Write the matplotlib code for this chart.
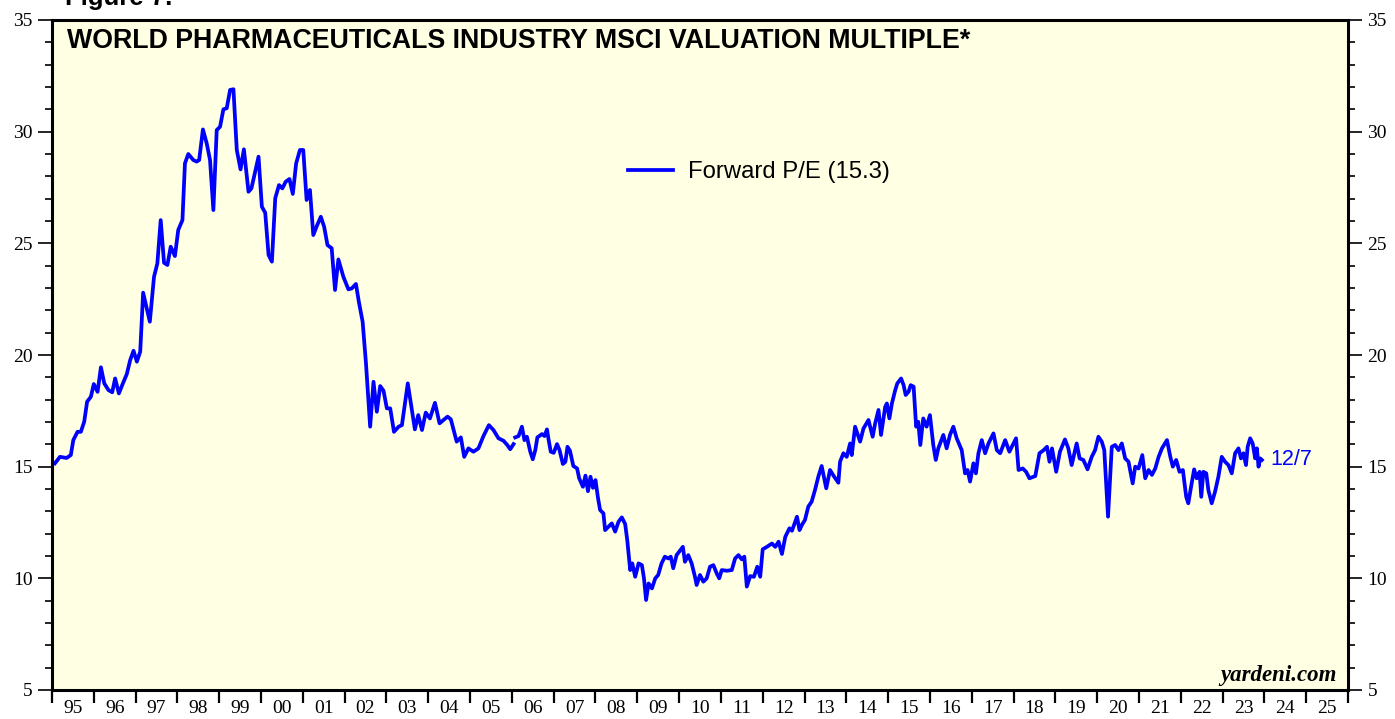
import numpy as np
import matplotlib
matplotlib.use('Agg')
import matplotlib.pyplot as plt

# Forward P/E, monthly part (1995 - 2005)
early_dates = [1995.07, 1995.19, 1995.35, 1995.45, 1995.51, 1995.61, 1995.69, 1995.77, 1995.84, 1995.93,
               1996.00, 1996.09, 1996.17, 1996.25, 1996.35, 1996.44, 1996.51, 1996.60, 1996.69, 1996.79,
               1996.87, 1996.95, 1997.03, 1997.11, 1997.18, 1997.34, 1997.44, 1997.52, 1997.60, 1997.68,
               1997.76, 1997.84, 1997.94, 1998.02, 1998.12, 1998.18, 1998.26, 1998.38, 1998.46, 1998.52,
               1998.61, 1998.70, 1998.78, 1998.86, 1998.94, 1999.02, 1999.10, 1999.18, 1999.26, 1999.34,
               1999.42, 1999.51, 1999.59, 1999.70, 1999.77, 1999.94, 2000.02, 2000.10, 2000.18, 2000.26,
               2000.34, 2000.43, 2000.51, 2000.59, 2000.68, 2000.76, 2000.84, 2000.93, 2001.01, 2001.09,
               2001.17, 2001.25, 2001.34, 2001.43, 2001.51, 2001.59, 2001.69, 2001.77, 2001.85, 2001.97,
               2002.09, 2002.17, 2002.27, 2002.34, 2002.43, 2002.51, 2002.61, 2002.69, 2002.77, 2002.85,
               2002.93, 2003.01, 2003.09, 2003.18, 2003.29, 2003.37, 2003.51, 2003.68, 2003.76, 2003.85,
               2003.94, 2004.04, 2004.16, 2004.27, 2004.46, 2004.54, 2004.68, 2004.78, 2004.86, 2004.96,
               2005.08, 2005.20, 2005.32, 2005.45, 2005.56, 2005.68, 2005.80, 2005.89, 2005.96, 2006.04]
early_pe = [15.15, 15.44, 15.39, 15.52, 16.19, 16.56, 16.56, 17.01, 17.91, 18.13,
            18.70, 18.35, 19.45, 18.73, 18.43, 18.33, 18.95, 18.28, 18.70, 19.15,
            19.77, 20.19, 19.70, 20.15, 22.79, 21.49, 23.50, 24.10, 26.04, 24.13,
            24.03, 24.85, 24.43, 25.60, 26.04, 28.58, 29.00, 28.73, 28.66, 28.73,
            30.10, 29.48, 28.73, 26.49, 30.07, 30.22, 31.00, 31.05, 31.87, 31.90,
            29.18, 28.31, 29.21, 27.31, 27.46, 28.88, 26.64, 26.37, 24.48, 24.18,
            27.02, 27.61, 27.46, 27.76, 27.88, 27.21, 28.58, 29.18, 29.18, 26.94,
            27.39, 25.37, 25.80, 26.19, 25.74, 24.92, 24.78, 22.91, 24.28, 23.50,
            22.94, 22.98, 23.18, 22.38, 21.49, 19.63, 16.79, 18.80, 17.46, 18.61,
            18.40, 17.61, 17.61, 16.56, 16.79, 16.86, 18.73, 16.67, 17.31, 16.64,
            17.42, 17.16, 17.86, 16.94, 17.24, 17.12, 16.12, 16.31, 15.44, 15.82,
            15.67, 15.82, 16.37, 16.86, 16.64, 16.27, 16.16, 15.97, 15.78, 16.01]

# Forward P/E, weekly part (2006 - 12/7/2023)
late_dates = [2006.08, 2006.16, 2006.24, 2006.30, 2006.36, 2006.44, 2006.50, 2006.56, 2006.61, 2006.72,
              2006.78, 2006.84, 2006.88, 2006.93, 2007.00, 2007.08, 2007.14, 2007.22, 2007.28, 2007.33,
              2007.39, 2007.47, 2007.56, 2007.61, 2007.70, 2007.76, 2007.82, 2007.88, 2007.94, 2008.00,
              2008.06, 2008.11, 2008.19, 2008.23, 2008.31, 2008.39, 2008.47, 2008.55, 2008.63, 2008.71,
              2008.76, 2008.83, 2008.88, 2008.95, 2009.03, 2009.11, 2009.16, 2009.21, 2009.27, 2009.35,
              2009.43, 2009.50, 2009.58, 2009.66, 2009.74, 2009.80, 2009.86, 2009.94, 2010.02, 2010.09,
              2010.14, 2010.22, 2010.30, 2010.38, 2010.42, 2010.50, 2010.58, 2010.66, 2010.74, 2010.82,
              2010.90, 2010.96, 2011.02, 2011.14, 2011.26, 2011.34, 2011.42, 2011.50, 2011.56, 2011.62,
              2011.70, 2011.79, 2011.87, 2011.94, 2012.00, 2012.10, 2012.22, 2012.30, 2012.38, 2012.46,
              2012.54, 2012.64, 2012.70, 2012.82, 2012.88, 2012.94, 2013.01, 2013.09, 2013.17, 2013.25,
              2013.33, 2013.41, 2013.52, 2013.61, 2013.71, 2013.81, 2013.85, 2013.93, 2014.01, 2014.09,
              2014.13, 2014.21, 2014.33, 2014.41, 2014.53, 2014.63, 2014.69, 2014.77, 2014.83, 2014.93,
              2014.97, 2015.03, 2015.09, 2015.17, 2015.22, 2015.31, 2015.37, 2015.42, 2015.49, 2015.54,
              2015.61, 2015.67, 2015.72, 2015.77, 2015.84, 2015.92, 2016.00, 2016.08, 2016.14, 2016.20,
              2016.32, 2016.40, 2016.48, 2016.56, 2016.64, 2016.76, 2016.84, 2016.90, 2016.96, 2017.04,
              2017.10, 2017.16, 2017.24, 2017.32, 2017.40, 2017.52, 2017.60, 2017.68, 2017.80, 2017.90,
              2018.00, 2018.06, 2018.12, 2018.22, 2018.30, 2018.38, 2018.52, 2018.62, 2018.72, 2018.80,
              2018.86, 2018.92, 2019.02, 2019.11, 2019.23, 2019.31, 2019.39, 2019.51, 2019.58, 2019.67,
              2019.77, 2019.87, 2019.95, 2020.03, 2020.11, 2020.17, 2020.22, 2020.26, 2020.31, 2020.35,
              2020.43, 2020.51, 2020.59, 2020.67, 2020.75, 2020.85, 2020.91, 2020.99, 2021.08, 2021.15,
              2021.23, 2021.31, 2021.39, 2021.47, 2021.55, 2021.67, 2021.75, 2021.81, 2021.89, 2021.97,
              2022.05, 2022.13, 2022.18, 2022.26, 2022.32, 2022.38, 2022.45, 2022.49, 2022.54, 2022.61,
              2022.66, 2022.74, 2022.82, 2022.90, 2022.98, 2023.06, 2023.14, 2023.22, 2023.30, 2023.38,
              2023.44, 2023.50, 2023.56, 2023.60, 2023.66, 2023.72, 2023.78, 2023.82, 2023.86, 2023.90,
              2023.94]
late_pe = [16.31, 16.37, 16.79, 16.19, 16.34, 15.67, 15.33, 15.74, 16.31, 16.46,
           16.37, 16.67, 16.19, 15.67, 15.62, 16.01, 15.74, 15.12, 15.22, 15.89,
           15.71, 15.03, 14.92, 14.48, 14.10, 14.60, 13.90, 14.55, 14.05, 14.40,
           13.60, 13.06, 12.91, 12.16, 12.31, 12.46, 12.09, 12.53, 12.73, 12.43,
           11.71, 10.37, 10.67, 10.07, 10.67, 10.59, 10.00, 9.03, 9.77, 9.55,
           10.00, 10.15, 10.67, 10.97, 10.89, 10.97, 10.45, 11.04, 11.24, 11.41,
           10.74, 11.04, 10.67, 10.07, 9.70, 10.15, 9.85, 10.00, 10.52, 10.59,
           10.22, 10.00, 10.37, 10.34, 10.37, 10.89, 11.04, 10.85, 10.97, 9.63,
           10.10, 10.07, 10.52, 10.07, 11.30, 11.41, 11.56, 11.41, 11.64, 11.09,
           11.86, 12.24, 12.13, 12.76, 12.16, 12.40, 12.61, 13.21, 13.43, 13.95,
           14.55, 15.03, 14.03, 14.85, 14.55, 14.28, 15.22, 15.60, 15.44, 16.04,
           15.52, 16.79, 16.12, 16.71, 17.09, 16.34, 16.94, 17.54, 16.42, 17.68,
           17.83, 17.16, 17.83, 18.43, 18.73, 18.95, 18.65, 18.21, 18.36, 18.65,
           18.58, 16.79, 17.01, 15.97, 17.16, 16.79, 17.31, 15.97, 15.30, 15.82,
           16.42, 15.82, 16.42, 16.79, 16.27, 15.74, 14.70, 14.85, 14.33, 15.15,
           14.70, 15.60, 16.19, 15.60, 16.04, 16.49, 15.74, 15.60, 16.19, 15.67,
           16.04, 16.27, 14.85, 14.92, 14.77, 14.48, 14.58, 15.60, 15.74, 15.89,
           15.22, 15.82, 14.77, 15.67, 16.22, 15.82, 15.07, 16.04, 15.37, 15.30,
           14.88, 15.44, 15.74, 16.34, 16.12, 15.74, 14.10, 12.76, 14.55, 15.89,
           15.97, 15.74, 16.04, 15.37, 15.22, 14.25, 15.00, 14.92, 15.52, 14.48,
           14.85, 14.63, 14.92, 15.44, 15.82, 16.19, 15.44, 15.00, 15.30, 14.77,
           14.85, 13.65, 13.36, 14.25, 14.88, 14.48, 14.77, 13.65, 14.77, 14.70,
           13.95, 13.36, 13.88, 14.55, 15.44, 15.22, 15.07, 14.70, 15.60, 15.82,
           15.37, 15.60, 15.07, 15.89, 16.27, 16.04, 15.37, 15.82, 15.00, 15.37,
           15.30]

year_labels = ['95', '96', '97', '98', '99', '00', '01', '02', '03', '04', '05', '06', '07', '08', '09', '10',
               '11', '12', '13', '14', '15', '16', '17', '18', '19', '20', '21', '22', '23', '24', '25']

blue = '#0000FF'
serif = 'Liberation Serif'
sans = 'Liberation Sans'

fig = plt.figure(figsize=(13.95, 7.19), dpi=100)
ax = fig.add_axes([52 / 1395, 1 - 690 / 719, 1296 / 1395, 670 / 719])
ax.set_facecolor('#FFFFE3')

ax.plot(early_dates, early_pe, color=blue, lw=2.7, label='Forward P/E (15.3)')
ax.plot(late_dates, late_pe, color=blue, lw=2.7)

ax.set_xlim(1995, 2026)
ax.set_ylim(5, 35)

# x axis: ticks on year boundaries, labels mid-year
ax.set_xticks(np.arange(1995, 2027))
ax.set_xticklabels([])
ax.set_xticks(np.arange(1995.5, 2026), minor=True)
ax.set_xticklabels(year_labels, minor=True, fontfamily=serif, fontsize=14)
ax.tick_params(axis='x', which='major', direction='out', length=9, width=1.6, bottom=True, top=False)
ax.tick_params(axis='x', which='minor', length=0, pad=7)

# y axis: both sides
ax.set_yticks(np.arange(5, 36, 5))
ax.set_yticks(np.arange(5, 36, 1), minor=True)
ax.tick_params(axis='y', which='both', direction='out', left=True, right=True,
               labelleft=True, labelright=True, width=1.2)
ax.tick_params(axis='y', which='major', length=10, pad=4, labelsize=14)
ax.tick_params(axis='y', which='minor', length=5)
for lab in ax.get_yticklabels():
    lab.set_fontfamily(serif)

for sp in ax.spines.values():
    sp.set_linewidth(2.2)

ax.text(0.0116, 0.969, 'WORLD PHARMACEUTICALS INDUSTRY MSCI VALUATION MULTIPLE*', transform=ax.transAxes,
        fontfamily=sans, fontweight='bold', fontsize=19.3, va='center', ha='left')

ax.legend(loc='center left', bbox_to_anchor=(0.4445, 0.773), frameon=False, borderpad=0, borderaxespad=0,
          handlelength=1.9, handletextpad=0.6, prop={'family': sans, 'size': 17.2})

ax.annotate('12/7', xy=(late_dates[-1], late_pe[-1]), xytext=(6, 0), textcoords='offset points',
            color=blue, fontfamily=sans, fontsize=15.5, va='center', ha='left')

ax.text(0.9915, 0.006, 'yardeni.com', transform=ax.transAxes, ha='right', va='bottom',
        fontfamily=serif, fontweight='bold', fontstyle='italic', fontsize=16.5)

fig.text(65 / 1395, 1 - 5 / 719, 'Figure 7.', fontfamily=sans, fontweight='bold', fontsize=18.5,
         va='baseline', ha='left')

fig.savefig('out.png', dpi=100)
